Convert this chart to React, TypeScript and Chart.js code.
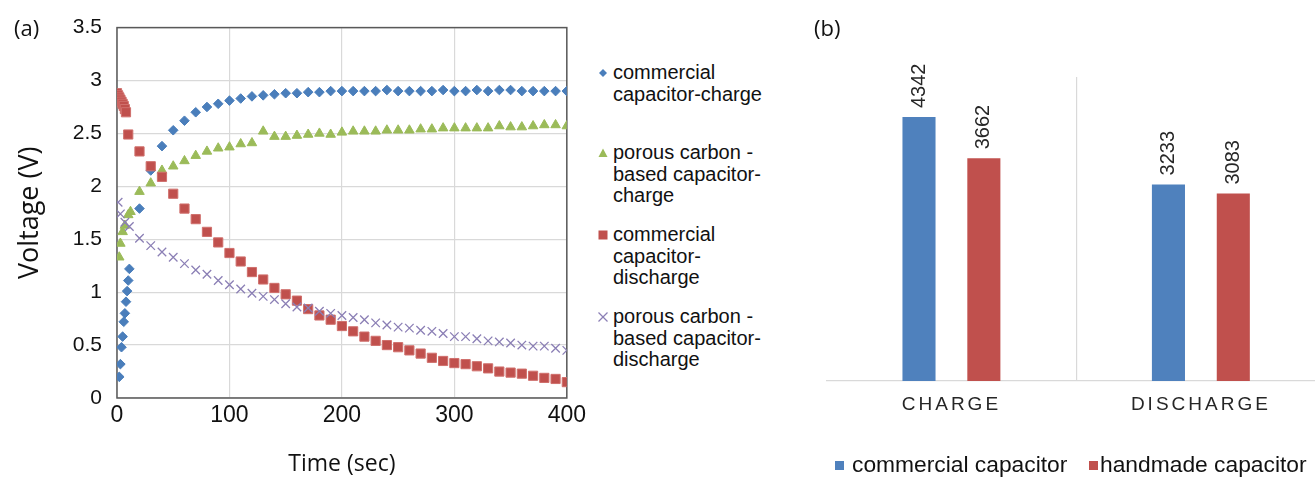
import React, { useEffect, useRef } from "react";
import { Chart, registerables } from "chart.js";

Chart.register(...registerables);

// ---------- Panel (a): voltage vs time ----------
const commercialChargeTime = [2, 3, 4, 5, 6, 7, 8, 9, 10, 11, 20, 30, 40, 50, 60, 70, 80, 90, 100, 110, 120, 130, 140, 150, 160, 170, 180, 190, 200, 210, 220, 230, 240, 250, 260, 270, 280, 290, 300, 310, 320, 330, 340, 350, 360, 370, 380, 390, 400];
const commercialChargeVoltage = [0.2, 0.32, 0.48, 0.58, 0.72, 0.8, 0.91, 1.01, 1.11, 1.22, 1.79, 2.15, 2.38, 2.53, 2.62, 2.7, 2.75, 2.78, 2.81, 2.83, 2.85, 2.86, 2.87, 2.88, 2.88, 2.89, 2.89, 2.9, 2.9, 2.9, 2.9, 2.9, 2.91, 2.9, 2.9, 2.9, 2.9, 2.91, 2.9, 2.9, 2.91, 2.9, 2.91, 2.91, 2.9, 2.9, 2.9, 2.9, 2.9];

const porousChargeTime = [2, 3, 5, 7, 10, 12, 20, 30, 40, 50, 60, 70, 80, 90, 100, 110, 120, 130, 140, 150, 160, 170, 180, 190, 200, 210, 220, 230, 240, 250, 260, 270, 280, 290, 300, 310, 320, 330, 340, 350, 360, 370, 380, 390, 400];
const porousChargeVoltage = [1.33, 1.46, 1.57, 1.63, 1.73, 1.76, 1.95, 2.03, 2.15, 2.19, 2.24, 2.29, 2.33, 2.36, 2.37, 2.4, 2.41, 2.52, 2.47, 2.47, 2.48, 2.49, 2.5, 2.49, 2.51, 2.52, 2.52, 2.52, 2.53, 2.53, 2.53, 2.54, 2.54, 2.55, 2.55, 2.55, 2.55, 2.55, 2.57, 2.56, 2.56, 2.57, 2.58, 2.58, 2.57];

const commercialDischargeTime = [0, 1, 2, 3, 4, 5, 6, 7, 8, 10, 20, 30, 40, 50, 60, 70, 80, 90, 100, 110, 120, 130, 140, 150, 160, 170, 180, 190, 200, 210, 220, 230, 240, 250, 260, 270, 280, 290, 300, 310, 320, 330, 340, 350, 360, 370, 380, 390, 400];
const commercialDischargeVoltage = [2.88, 2.86, 2.84, 2.82, 2.8, 2.78, 2.76, 2.73, 2.7, 2.49, 2.33, 2.19, 2.09, 1.93, 1.79, 1.69, 1.57, 1.47, 1.37, 1.29, 1.19, 1.12, 1.04, 0.98, 0.92, 0.84, 0.78, 0.74, 0.68, 0.63, 0.58, 0.54, 0.5, 0.48, 0.45, 0.42, 0.38, 0.35, 0.33, 0.32, 0.3, 0.28, 0.25, 0.24, 0.23, 0.21, 0.19, 0.18, 0.15];

const porousDischargeTime = [1, 3, 7, 11, 20, 30, 40, 50, 60, 70, 80, 90, 100, 110, 120, 130, 140, 150, 160, 170, 180, 190, 200, 210, 220, 230, 240, 250, 260, 270, 280, 290, 300, 310, 320, 330, 340, 350, 360, 370, 380, 390, 400];
const porousDischargeVoltage = [1.85, 1.74, 1.66, 1.62, 1.51, 1.44, 1.38, 1.33, 1.27, 1.21, 1.17, 1.11, 1.07, 1.03, 0.99, 0.96, 0.93, 0.89, 0.86, 0.85, 0.82, 0.8, 0.78, 0.76, 0.74, 0.71, 0.69, 0.67, 0.66, 0.64, 0.63, 0.61, 0.58, 0.58, 0.56, 0.54, 0.53, 0.52, 0.5, 0.49, 0.49, 0.47, 0.45];

const seriesNamesA = [
  ["commercial", "capacitor-charge"],
  ["porous carbon -", "based capacitor-", "charge"],
  ["commercial", "capacitor-", "discharge"],
  ["porous carbon -", "based capacitor-", "discharge"],
];

// ---------- Panel (b): bar chart ----------
const barCategories = ["CHARGE", "DISCHARGE"];
const commercialCapacitorValues = [4342, 3233];
const handmadeCapacitorValues = [3662, 3083];
const barSeriesNames = ["commercial capacitor", "handmade capacitor"];

const BLUE = "#4a7ebb";
const GREEN = "#9bbb59";
const RED = "#c0504d";
const PURPLE = "#8b7fb5";
const BAR_BLUE = "#4f81bd";
const BAR_RED = "#c0504d";

const SANS = "'Liberation Sans', Arial, sans-serif";
const TITLE_FONT = "'Open Sans', sans-serif";

function toPoints(xs: number[], ys: number[]) {
  return xs.map((x, i) => ({ x, y: ys[i] }));
}

const framePlugin = {
  id: "frame",
  beforeDatasetsDraw(chart: any) {
    const { ctx, chartArea } = chart;
    const { left, top, right, bottom } = chartArea;
    ctx.save();
    ctx.strokeStyle = "#595959";
    ctx.lineWidth = 1.5;
    ctx.strokeRect(left, top, right - left, bottom - top);
    ctx.restore();
  },
};

function LineChart() {
  const ref = useRef<HTMLCanvasElement | null>(null);
  useEffect(() => {
    if (!ref.current) return;
    const chart = new Chart(ref.current, {
      type: "scatter",
      data: {
        datasets: [
          {
            label: seriesNamesA[0].join(" "),
            data: toPoints(commercialChargeTime, commercialChargeVoltage),
            pointStyle: "rectRot",
            pointRadius: 4.8,
            backgroundColor: BLUE,
            borderColor: BLUE,
            borderWidth: 1,
            order: 4,
          },
          {
            label: seriesNamesA[1].join(" "),
            data: toPoints(porousChargeTime, porousChargeVoltage),
            pointStyle: "triangle",
            pointRadius: 5.5,
            backgroundColor: GREEN,
            borderColor: GREEN,
            borderWidth: 1,
            order: 3,
          },
          {
            label: seriesNamesA[2].join(" "),
            data: toPoints(commercialDischargeTime, commercialDischargeVoltage),
            pointStyle: "rect",
            pointRadius: 6.5,
            backgroundColor: RED,
            borderColor: "#d0706d",
            borderWidth: 1,
            order: 2,
          },
          {
            label: seriesNamesA[3].join(" "),
            data: toPoints(porousDischargeTime, porousDischargeVoltage),
            pointStyle: "crossRot",
            pointRadius: 6,
            backgroundColor: PURPLE,
            borderColor: PURPLE,
            borderWidth: 1.3,
            order: 1,
          },
        ],
      },
      options: {
        animation: false,
        responsive: false,
        events: [],
        layout: { padding: { top: 27, right: 19, left: 0, bottom: 0 } },
        plugins: { legend: { display: false }, tooltip: { enabled: false } },
        scales: {
          x: {
            type: "linear",
            min: 0,
            max: 400,
            ticks: { stepSize: 100, color: "#111", font: { family: SANS, size: 23 }, padding: 4 },
            grid: { color: "#d9d9d9", drawTicks: false, lineWidth: 1.2 },
            border: { display: false },
            title: {
              display: true,
              text: "Time (sec)",
              color: "#111",
              font: { family: TITLE_FONT, size: 23 },
              padding: { top: 0, bottom: 0 },
            },
            afterFit(scale: any) {
              scale.height = 80;
            },
          },
          y: {
            type: "linear",
            min: 0,
            max: 3.5,
            ticks: {
              stepSize: 0.5,
              color: "#111",
              font: { family: SANS, size: 21 },
              padding: 15,
              callback: (v: any) => String(Math.round(Number(v) * 10) / 10),
            },
            grid: { color: "#d9d9d9", drawTicks: false, lineWidth: 1.2 },
            border: { display: false },
            title: {
              display: true,
              text: "Voltage (V)",
              color: "#111",
              font: { family: TITLE_FONT, size: 27 },
              padding: { top: 14, bottom: 14 },
            },
            afterFit(scale: any) {
              scale.width = 117;
            },
          },
        },
      },
      plugins: [framePlugin],
    } as any);
    return () => chart.destroy();
  }, []);
  return <canvas ref={ref} width={590} height={478} style={{ position: "absolute", left: 0, top: 0 }} />;
}

const barLabelPlugin = {
  id: "barLabels",
  beforeDraw(chart: any) {
    chart.ctx.letterSpacing = "3px";
  },
  afterDatasetsDraw(chart: any) {
    const { ctx } = chart;
    ctx.save();
    ctx.letterSpacing = "0px";
    ctx.font = `20px ${SANS}`;
    ctx.fillStyle = "#262626";
    ctx.textAlign = "left";
    ctx.textBaseline = "middle";
    chart.data.datasets.forEach((ds: any, di: number) => {
      const meta = chart.getDatasetMeta(di);
      meta.data.forEach((bar: any, i: number) => {
        ctx.save();
        ctx.translate(bar.x, bar.y - 9);
        ctx.rotate(-Math.PI / 2);
        ctx.fillText(String(ds.data[i]), 0, 0);
        ctx.restore();
      });
    });
    ctx.restore();
  },
};

function BarChart() {
  const ref = useRef<HTMLCanvasElement | null>(null);
  useEffect(() => {
    if (!ref.current) return;
    const chart = new Chart(ref.current, {
      type: "bar",
      data: {
        labels: barCategories,
        datasets: [
          {
            label: barSeriesNames[0],
            data: commercialCapacitorValues,
            backgroundColor: BAR_BLUE,
            barPercentage: 0.51,
            categoryPercentage: 0.52,
          },
          {
            label: barSeriesNames[1],
            data: handmadeCapacitorValues,
            backgroundColor: BAR_RED,
            barPercentage: 0.51,
            categoryPercentage: 0.52,
          },
        ],
      },
      options: {
        animation: false,
        responsive: false,
        events: [],
        layout: { padding: { top: 77, right: 14.4, left: 26.7, bottom: 57 } },
        plugins: { legend: { display: false }, tooltip: { enabled: false } },
        scales: {
          x: {
            type: "category",
            grid: {
              offset: true,
              drawTicks: false,
              color: (c: any) => (c.index === 1 ? "#d9d9d9" : "rgba(0,0,0,0)"),
              lineWidth: 1.2,
            },
            border: { display: true, color: "#d9d9d9", width: 1.2 },
            ticks: { color: "#262626", font: { family: SANS, size: 19 }, padding: 12 },
            afterFit(scale: any) {
              scale.height = 40;
            },
          },
          y: { display: false, min: 0, max: 5000 },
        },
      },
      plugins: [barLabelPlugin],
    } as any);
    return () => chart.destroy();
  }, []);
  return <canvas ref={ref} width={540} height={478} style={{ position: "absolute", left: 800, top: 0 }} />;
}

function Marker({ kind, color }: { kind: string; color: string }) {
  let shape: any = null;
  if (kind === "diamond") shape = <polygon points="6,2 10,6 6,10 2,6" fill={color} />;
  if (kind === "triangle") shape = <polygon points="6,1.5 10.5,10 1.5,10" fill={color} />;
  if (kind === "square") shape = <rect x="1.5" y="1.5" width="9" height="9" fill={color} />;
  if (kind === "cross")
    shape = (
      <g stroke={color} strokeWidth="1.2">
        <line x1="1.5" y1="1.5" x2="10.5" y2="10.5" />
        <line x1="10.5" y1="1.5" x2="1.5" y2="10.5" />
      </g>
    );
  return (
    <svg width="12" height="12" style={{ position: "absolute", left: 0, top: 5 }}>
      {shape}
    </svg>
  );
}

export default function App() {
  const legendA = [
    { kind: "diamond", color: BLUE, top: 62 },
    { kind: "triangle", color: GREEN, top: 142 },
    { kind: "square", color: RED, top: 224 },
    { kind: "cross", color: PURPLE, top: 306 },
  ];
  return (
    <div
      style={{
        position: "absolute",
        left: 0,
        top: 0,
        width: 1315,
        height: 478,
        overflow: "hidden",
        background: "#fff",
      }}
    >
      <LineChart />
      <BarChart />
      <div style={{ position: "absolute", left: 14, top: 12, font: `22px ${TITLE_FONT}`, color: "#111" }}>(a)</div>
      <div style={{ position: "absolute", left: 814, top: 12, font: `22px ${TITLE_FONT}`, color: "#111" }}>(b)</div>
      {legendA.map((item, i) => (
        <div key={i} style={{ position: "absolute", left: 597, top: item.top }}>
          <Marker kind={item.kind} color={item.color} />
          <div
            style={{
              marginLeft: 16,
              font: `20px ${SANS}`,
              lineHeight: "21.5px",
              color: "#111",
              whiteSpace: "nowrap",
            }}
          >
            {seriesNamesA[i].map((line, j) => (
              <div key={j}>{line}</div>
            ))}
          </div>
        </div>
      ))}
      <div style={{ position: "absolute", left: 835, top: 461, width: 9, height: 9, background: BAR_BLUE }} />
      <div style={{ position: "absolute", left: 852, top: 451, font: `22.8px ${SANS}`, color: "#111", whiteSpace: "nowrap" }}>
        {barSeriesNames[0]}
      </div>
      <div style={{ position: "absolute", left: 1089, top: 461, width: 9, height: 9, background: BAR_RED }} />
      <div style={{ position: "absolute", left: 1100, top: 451, font: `22.8px ${SANS}`, color: "#111", whiteSpace: "nowrap" }}>
        {barSeriesNames[1]}
      </div>
    </div>
  );
}
